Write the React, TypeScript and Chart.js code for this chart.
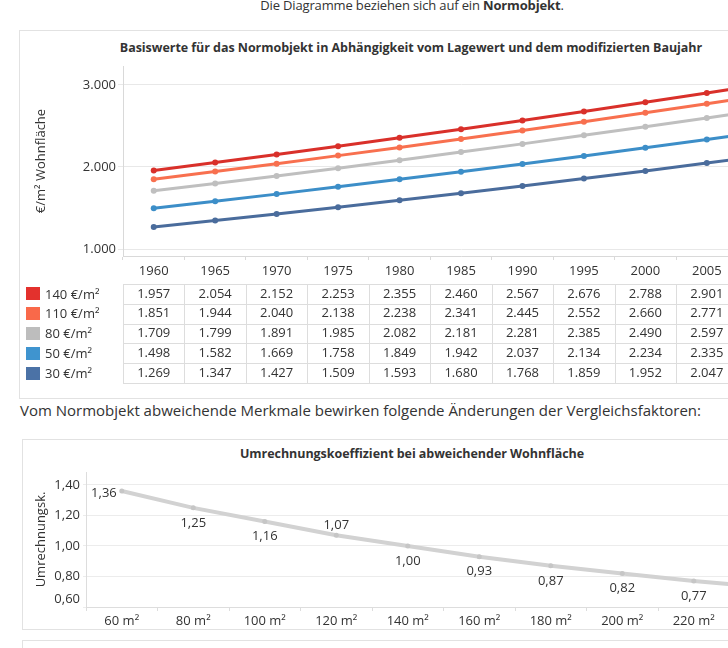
import React, { useEffect, useRef } from 'react';
import { Chart, registerables } from 'chart.js';

Chart.register(...registerables);

// ---------- Data: Basiswerte ----------
const YEARS = ['1960', '1965', '1970', '1975', '1980', '1985', '1990', '1995', '2000', '2005', '2010'];
const SERIES_LABELS = ['140 €/m²', '110 €/m²', '80 €/m²', '50 €/m²', '30 €/m²'];
const S140 = [1957, 2054, 2152, 2253, 2355, 2460, 2567, 2676, 2788, 2901, 3016];
const S110 = [1851, 1944, 2040, 2138, 2238, 2341, 2445, 2552, 2660, 2771, 2884];
const S80 = [1709, 1799, 1891, 1985, 2082, 2181, 2281, 2385, 2490, 2597, 2706];
const S50 = [1498, 1582, 1669, 1758, 1849, 1942, 2037, 2134, 2234, 2335, 2438];
const S30 = [1269, 1347, 1427, 1509, 1593, 1680, 1768, 1859, 1952, 2047, 2144];
const Y_TICKS = [1000, 2000, 3000];

// ---------- Data: Umrechnungskoeffizient ----------
const AREAS = ['60 m²', '80 m²', '100 m²', '120 m²', '140 m²', '160 m²', '180 m²', '200 m²', '220 m²', '240 m²'];
const COEF = [1.36, 1.25, 1.16, 1.07, 1.0, 0.93, 0.87, 0.82, 0.77, 0.73];
const COEF_TICKS = [0.6, 0.8, 1.0, 1.2, 1.4];

// ---------- Styles ----------
const LINE_COLORS = ['#d9302a', '#f8704f', '#bfbfbf', '#3c8ec8', '#4a6c9c'];
const LEGEND_COLORS = ['#e3312d', '#f9694a', '#bdbdbd', '#3f94cf', '#4b72a6'];
const LABEL_POS = ['left', 'below', 'below', 'above', 'below', 'below', 'below', 'below', 'below', 'below'];
const FONT_FAMILY = '"Open Sans", "DejaVu Sans", sans-serif';
const TEXT = '#333333';

const fmtThousands = (v: number) => String(Math.round(v)).replace(/\B(?=(\d{3})+(?!\d))/g, '.');
const fmtComma = (v: number) => v.toFixed(2).replace('.', ',');

const tablePlugin = {
  id: 'valueTable',
  afterDraw(chart: any) {
    const { ctx, chartArea, scales } = chart;
    const x = scales.x;
    const series = [S140, S110, S80, S50, S30];
    const colW = x.getPixelForValue(1) - x.getPixelForValue(0);
    const left = chartArea.left;
    const right = x.getPixelForValue(YEARS.length - 1) + colW / 2;
    const top = chartArea.bottom + 28;
    const rowH = 19.8;
    ctx.save();
    ctx.strokeStyle = '#dddddd';
    ctx.lineWidth = 1;
    ctx.beginPath();
    for (let r = 0; r <= series.length; r++) {
      const y = Math.round(top + r * rowH) + 0.5;
      ctx.moveTo(left, y);
      ctx.lineTo(right, y);
    }
    for (let c = 0; c <= YEARS.length; c++) {
      const xx = Math.round(left + c * colW) + 0.5;
      ctx.moveTo(xx, Math.round(top) + 0.5);
      ctx.lineTo(xx, Math.round(top + series.length * rowH) + 0.5);
    }
    ctx.stroke();
    ctx.font = `13px ${FONT_FAMILY}`;
    ctx.fillStyle = TEXT;
    ctx.textBaseline = 'middle';
    series.forEach((s, r) => {
      const cy = top + r * rowH + rowH / 2;
      ctx.textAlign = 'center';
      s.forEach((v, c) => {
        ctx.fillText(fmtThousands(v), x.getPixelForValue(c), cy);
      });
      ctx.fillStyle = LEGEND_COLORS[r];
      ctx.fillRect(6, Math.round(cy - 6.5), 14, 13);
      ctx.fillStyle = TEXT;
      ctx.textAlign = 'left';
      ctx.fillText(SERIES_LABELS[r], 25, cy + 1);
    });
    ctx.restore();
  },
};

const labelPlugin = {
  id: 'pointLabels',
  afterDatasetsDraw(chart: any) {
    const { ctx } = chart;
    const meta = chart.getDatasetMeta(0);
    ctx.save();
    ctx.font = `13px ${FONT_FAMILY}`;
    ctx.fillStyle = TEXT;
    ctx.textBaseline = 'middle';
    meta.data.forEach((pt: any, i: number) => {
      const txt = fmtComma(COEF[i]);
      const pos = LABEL_POS[i];
      if (pos === 'left') {
        ctx.textAlign = 'right';
        ctx.fillText(txt, pt.x - 5, pt.y + 2);
      } else if (pos === 'above') {
        ctx.textAlign = 'center';
        ctx.fillText(txt, pt.x, pt.y - 10);
      } else {
        ctx.textAlign = 'center';
        ctx.fillText(txt, pt.x, pt.y + 15);
      }
    });
    ctx.restore();
  },
};

function BaseChart() {
  const ref = useRef<HTMLCanvasElement | null>(null);
  useEffect(() => {
    if (!ref.current) return;
    const series = [S140, S110, S80, S50, S30];
    const font = { family: FONT_FAMILY, size: 13 };
    const chart = new Chart(ref.current, {
      type: 'line',
      data: {
        labels: YEARS,
        datasets: series.map((d, i) => ({
          label: SERIES_LABELS[i],
          data: d,
          borderColor: LINE_COLORS[i],
          backgroundColor: LINE_COLORS[i],
          borderWidth: 3,
          pointRadius: 3,
          pointHoverRadius: 3,
          pointBorderWidth: 0,
          tension: 0,
        })),
      },
      options: {
        animation: false,
        responsive: false,
        events: [],
        layout: { padding: { left: 9, right: 1, top: 7, bottom: 0 } },
        plugins: { legend: { display: false }, tooltip: { enabled: false } },
        scales: {
          x: {
            offset: true,
            grid: { offset: true, drawOnChartArea: false, tickLength: 4, color: '#d9d9d9' },
            border: { color: '#d9d9d9' },
            ticks: { font, color: TEXT, padding: 3, maxRotation: 0, autoSkip: false },
            afterFit: (s: any) => {
              s.height = 139;
              s.paddingLeft = 0;
              s.paddingRight = 0;
            },
          },
          y: {
            min: 915,
            max: 3230,
            afterBuildTicks: (s: any) => {
              s.ticks = Y_TICKS.map((v) => ({ value: v }));
            },
            grid: { color: '#e8e8e8', tickLength: 5 },
            border: { color: '#d9d9d9' },
            ticks: { font, color: TEXT, padding: 2, autoSkip: false, callback: (v: any) => fmtThousands(Number(v)) },
            title: { display: true, text: '€/m² Wohnfläche', font, color: TEXT },
            afterFit: (s: any) => {
              s.width = 94;
              s.paddingTop = 0;
              s.paddingBottom = 0;
            },
          },
        },
      },
      plugins: [tablePlugin],
    } as any);
    return () => chart.destroy();
  }, []);
  return <canvas ref={ref} width={782} height={336} style={{ display: 'block' }} />;
}

function CoefChart() {
  const ref = useRef<HTMLCanvasElement | null>(null);
  useEffect(() => {
    if (!ref.current) return;
    const font = { family: FONT_FAMILY, size: 13 };
    const chart = new Chart(ref.current, {
      type: 'line',
      data: {
        labels: AREAS,
        datasets: [
          {
            label: 'Umrechnungskoeffizient',
            data: COEF,
            borderColor: '#d2d2d2',
            backgroundColor: '#c6c6c6',
            borderWidth: 4,
            pointRadius: 2.5,
            pointHoverRadius: 2.5,
            pointBorderWidth: 0,
            tension: 0,
          },
        ],
      },
      options: {
        animation: false,
        responsive: false,
        events: [],
        layout: { padding: { left: 6, right: 12, top: 7, bottom: 0 } },
        plugins: { legend: { display: false }, tooltip: { enabled: false } },
        scales: {
          x: {
            offset: true,
            grid: { offset: true, drawOnChartArea: false, tickLength: 4, color: '#dddddd' },
            border: { color: '#dddddd' },
            ticks: { font, color: TEXT, padding: 2, maxRotation: 0, autoSkip: false },
            afterFit: (s: any) => {
              s.height = 21;
              s.paddingLeft = 0;
              s.paddingRight = 0;
            },
          },
          y: {
            min: 0.6,
            max: 1.485,
            afterBuildTicks: (s: any) => {
              s.ticks = COEF_TICKS.map((v) => ({ value: v }));
            },
            grid: { color: '#ececec', tickLength: 3 },
            border: { color: '#dddddd' },
            ticks: {
              font,
              color: TEXT,
              padding: 3,
              autoSkip: false,
              callback: (v: any) => (Math.abs(Number(v) - 0.6) < 1e-6 ? [fmtComma(Number(v)), ''] : fmtComma(Number(v))),
            },
            title: { display: true, text: 'Umrechnungsk.', font, color: TEXT },
            afterFit: (s: any) => {
              s.width = 57;
              s.paddingTop = 0;
              s.paddingBottom = 0;
            },
          },
        },
      },
      plugins: [labelPlugin],
    } as any);
    return () => chart.destroy();
  }, []);
  return <canvas ref={ref} width={790} height={163} style={{ display: 'block' }} />;
}

const panelStyle: React.CSSProperties = {
  position: 'absolute',
  border: '1px solid #e2e2e2',
  background: '#ffffff',
  boxSizing: 'border-box',
};

const titleStyle: React.CSSProperties = {
  position: 'absolute',
  top: 8,
  textAlign: 'center',
  fontWeight: 700,
  fontSize: 12.5,
  lineHeight: '18px',
  letterSpacing: -0.05,
  color: TEXT,
  whiteSpace: 'nowrap',
};

export default function App() {
  return (
    <div
      style={{
        position: 'fixed',
        left: 0,
        top: 0,
        width: 728,
        height: 648,
        overflow: 'hidden',
        background: '#ffffff',
        fontFamily: FONT_FAMILY,
        color: TEXT,
      }}
    >
      <div
        style={{
          position: 'absolute',
          left: 0,
          top: -4,
          width: 824,
          textAlign: 'center',
          fontSize: 13,
          lineHeight: '18px',
          letterSpacing: -0.15,
          whiteSpace: 'nowrap',
        }}
      >
        Die Diagramme beziehen sich auf ein <b>Normobjekt</b>.
      </div>

      <div style={{ ...panelStyle, left: 19, top: 30, width: 784, height: 369 }}>
        <div style={{ ...titleStyle, left: 0, width: 782 }}>
          Basiswerte für das Normobjekt in Abhängigkeit vom Lagewert und dem modifizierten Baujahr
        </div>
        <div style={{ position: 'absolute', left: 0, top: 28 }}>
          <BaseChart />
        </div>
      </div>

      <div
        style={{
          position: 'absolute',
          left: 20,
          top: 400,
          fontSize: 15,
          lineHeight: '20px',
          letterSpacing: 0,
          whiteSpace: 'nowrap',
        }}
      >
        Vom Normobjekt abweichende Merkmale bewirken folgende Änderungen der Vergleichsfaktoren:
      </div>

      <div style={{ ...panelStyle, left: 22, top: 439, width: 820, height: 191 }}>
        <div style={{ ...titleStyle, left: 0, width: 778, top: 5 }}>
          Umrechnungskoeffizient bei abweichender Wohnfläche
        </div>
        <div style={{ position: 'absolute', left: 0, top: 25 }}>
          <CoefChart />
        </div>
      </div>

      <div style={{ ...panelStyle, left: 22, top: 640, width: 820, height: 60 }} />
    </div>
  );
}
